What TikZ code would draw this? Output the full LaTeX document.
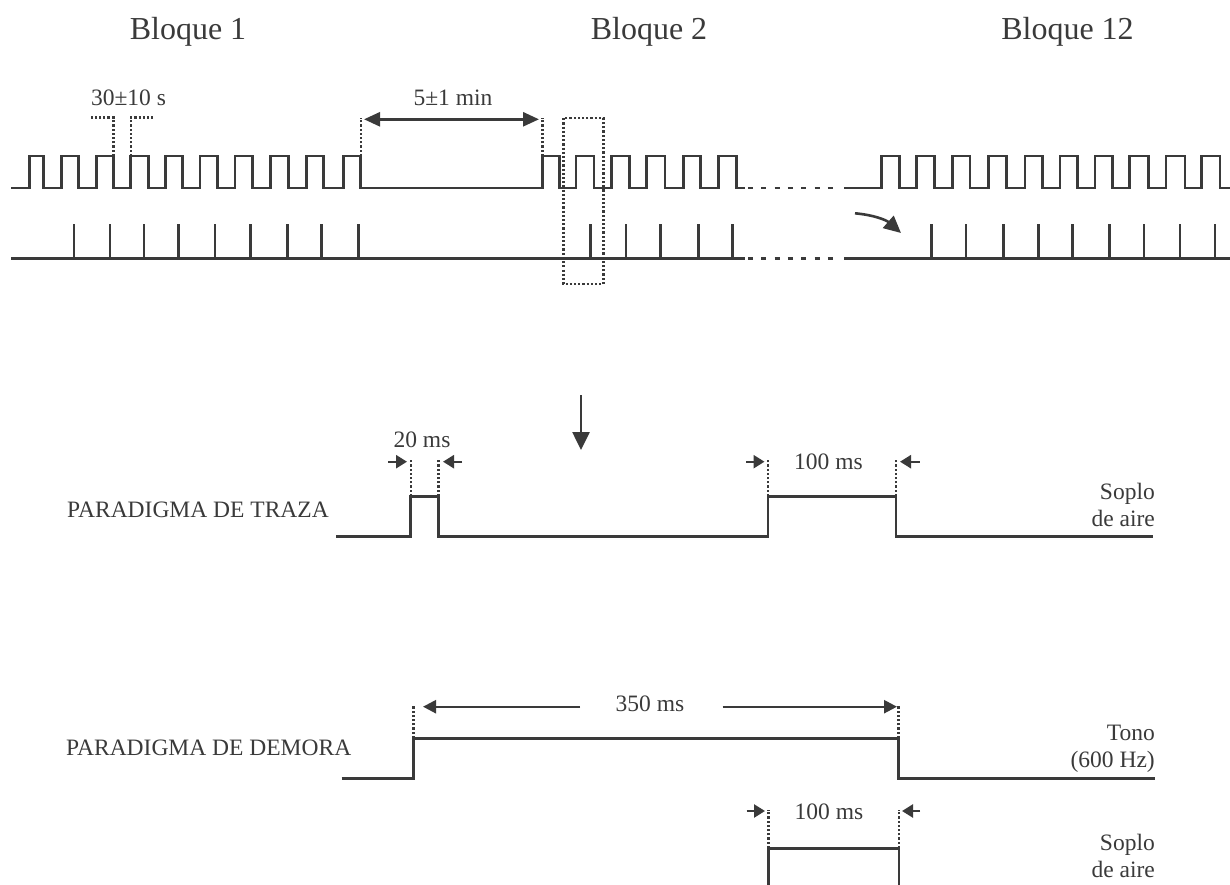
\documentclass[tikz,border=0pt]{standalone}
\usepackage{fontspec}
\setmainfont{Liberation Serif}
\usetikzlibrary{arrows.meta}
\definecolor{ink}{HTML}{3A3A3A}
\tikzset{
  sig/.style={draw=ink, line width=2.6pt, line join=miter},
  dotline/.style={draw=ink, line width=2.4pt, dash pattern=on 2.2pt off 2pt},
  dashline/.style={draw=ink, line width=2.6pt, dash pattern=on 5pt off 8.3pt},
  tick/.style={draw=ink, line width=2.6pt},
  smallarr/.style={draw=ink, line width=2.4pt, -{Triangle[length=11pt,width=13pt]}},
  midarr/.style={draw=ink, line width=2.4pt, -{Triangle[length=13pt,width=13pt]}},
  lbl/.style={text=ink, font=\fontsize{23.5}{27}\selectfont, inner sep=0pt, anchor=base},
  ttl/.style={text=ink, font=\fontsize{32}{36}\selectfont, inner sep=0pt, anchor=base},
  side/.style={text=ink, font=\fontsize{23.5}{27}\selectfont, inner sep=0pt, align=right, anchor=base east},
  lside/.style={text=ink, font=\fontsize{23.5}{27}\selectfont, inner sep=0pt, anchor=base west}
}
\begin{document}
\begin{tikzpicture}[x=1pt,y=-1pt]
\useasboundingbox[fill=white] (0,0) rectangle (1230,885);

% titles
\node[ttl] (b1) at (188,39.3) {Bloque 1};
\node[ttl] (b2) at (649,39.3) {Bloque 2};
\node[ttl] (b12) at (1067.5,39.3) {Bloque 12};

% top pulse train
\draw[sig] (11,188)
  foreach \r/\f in {29.3/43.3,61.7/78.3,96.7/113.3,130.7/148.3,165.7/182.7,200/217.3,235/252.7,270.7/288.3,306.7/323.3,343.3/360.7,
                    542.3/559.3,576/594,611.7/629.3,646.7/665,683.3/700.7,718.3/736.7}
  { -- (\r,188) -- (\r,156) -- (\f,156) -- (\f,188) } -- (745,188);
\draw[dashline] (748,188) -- (835,188);
\draw[sig] (844,188)
  foreach \r/\f in {881.7/899.3,916.7/934.3,952.3/970,988.3/1006.7,1025/1042.7,1060/1077.3,1095/1112.7,1129.3/1148.3,1166/1185,1201.7/1220}
  { -- (\r,188) -- (\r,156) -- (\f,156) -- (\f,188) } -- (1230,188);

% tick train
\draw[sig] (11,258.5) -- (745,258.5);
\draw[dashline] (748,258.5) -- (835,258.5);
\draw[sig] (844,258.5) -- (1230,258.5);
\foreach \t in {74,110,144,178.3,215,250.7,287.3,321.7,358.3,590.7,626,660.7,698.3,732.7,931.7,966,1003.3,1038.3,1072.7,1109.3,1144,1180,1215}
  \draw[tick] (\t,258.5) -- (\t,224);

% 30 +- 10 s
\draw[dotline] (113.3,156) -- (113.3,117.7) -- (90.7,117.7);
\draw[dotline] (130.7,156) -- (130.7,117.7) -- (154,117.7);
\node[lbl] (t30) at (128.5,106) {30±10 s};

% 5 +- 1 min
\draw[dotline] (361,156) -- (361,118);
\draw[dotline] (542.3,156) -- (542.3,118);
\coordinate (m1) at (364,119.3);
\coordinate (m2) at (539,119.3);
\draw[draw=ink, line width=2.6pt, {Triangle[length=16pt,width=14pt]}-{Triangle[length=16pt,width=14pt]}] (m1) -- (m2);
\node[lbl] (t5) at (453,106) {5±1 min};

% dotted selection box
\draw[dotline] (563.3,118.3) rectangle (603.3,284);

% curved arrow
\coordinate (c1) at (855,213.3);
\coordinate (c2) at (901,233);
\draw[draw=ink, line width=2.6pt, -{Triangle[length=17pt,width=16pt]}] (c1) to[bend left=18] (c2);

% down arrow
\coordinate (d1) at (581,395);
\coordinate (d2) at (581,450);
\draw[draw=ink, line width=2.6pt, -{Triangle[length=18pt,width=17pt]}] (d1) -- (d2);

% trace paradigm
\node[lside] (ptr) at (67,517) {PARADIGMA DE TRAZA};
\draw[sig] (336,536.5) -- (410.7,536.5) -- (410.7,496.5) -- (438.3,496.5) -- (438.3,536.5)
  -- (768,536.5) -- (768,496.5) -- (896,496.5) -- (896,536.5) -- (1153,536.5);
\foreach \x in {410.7,438.3,768,896} \draw[dotline] (\x,496) -- (\x,459);
\coordinate (a1s) at (388,461.7); \coordinate (a1e) at (407,461.7);
\coordinate (a2s) at (462,461.7); \coordinate (a2e) at (443,461.7);
\draw[smallarr] (a1s) -- (a1e);
\draw[smallarr] (a2s) -- (a2e);
\node[lbl] (t20) at (422,447.3) {20 ms};
\coordinate (a3s) at (746,461.7); \coordinate (a3e) at (764.5,461.7);
\coordinate (a4s) at (919.5,461.7); \coordinate (a4e) at (900,461.7);
\draw[smallarr] (a3s) -- (a3e);
\draw[smallarr] (a4s) -- (a4e);
\node[lbl] (t100a) at (828.5,469.3) {100 ms};
\node[side] (sa) at (1155,526) {Soplo\\de aire};

% delay paradigm
\node[lside] (pdm) at (66,755.5) {PARADIGMA DE DEMORA};
\draw[sig] (341.7,778.3) -- (413.3,778.3) -- (413.3,738.3) -- (898.3,738.3) -- (898.3,778.3) -- (1155,778.3);
\foreach \x in {413.3,898.3} \draw[dotline] (\x,738) -- (\x,705);
\coordinate (l1) at (580,706.7); \coordinate (l2) at (423,706.7);
\coordinate (r1) at (722.7,706.7); \coordinate (r2) at (897,706.7);
\draw[midarr] (l1) -- (l2);
\draw[midarr] (r1) -- (r2);
\node[lbl] (t350) at (650,711) {350 ms};
\node[side] (tono) at (1155,767) {Tono\\(600 Hz)};

% bottom air puff
\draw[sig] (768.3,886) -- (768.3,848.3) -- (899,848.3) -- (899,886);
\foreach \x in {768.3,899} \draw[dotline] (\x,848) -- (\x,810);
\coordinate (a5s) at (746.7,811); \coordinate (a5e) at (765,811);
\coordinate (a6s) at (920,811); \coordinate (a6e) at (902,811);
\draw[smallarr] (a5s) -- (a5e);
\draw[smallarr] (a6s) -- (a6e);
\node[lbl] (t100b) at (829,819) {100 ms};
\node[side] (sb) at (1155,877) {Soplo\\de aire};
\end{tikzpicture}
\end{document}
